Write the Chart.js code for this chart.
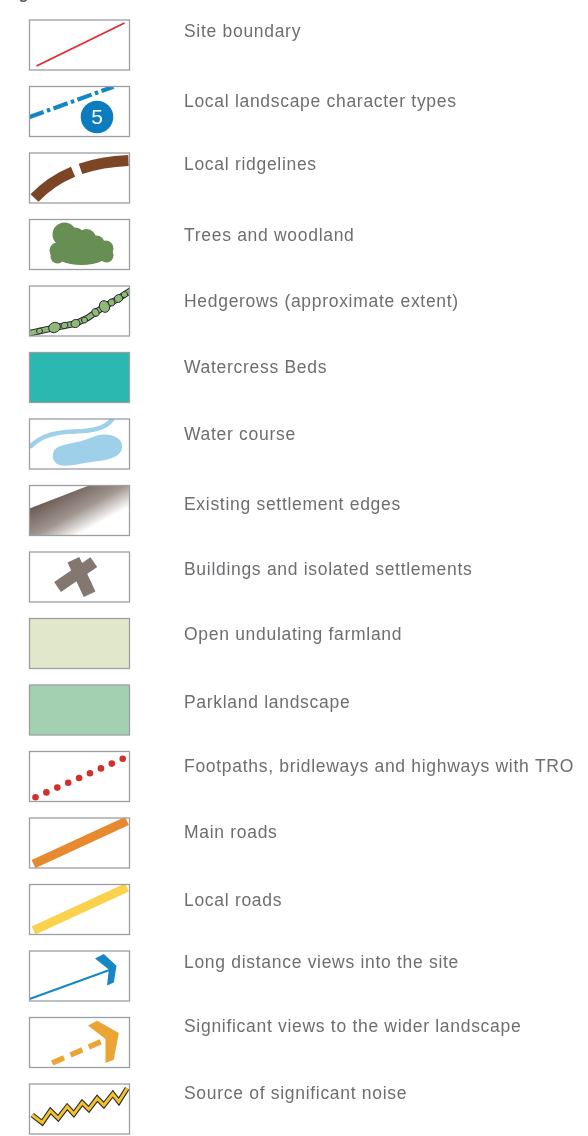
<!DOCTYPE html>
<html>
<head>
<meta charset="utf-8">
<title>Legend</title>
<script src="https://cdn.jsdelivr.net/npm/chart.js@4.4.1/dist/chart.umd.min.js"></script>
<style>
html, body { margin: 0; padding: 0; background: #ffffff; }
#wrap { position: relative; width: 588px; height: 1136px; }
</style>
</head>
<body>
<div id="wrap"><canvas id="legend-chart"></canvas></div>
<script>
// legend entries, top to bottom
var categories = [
	"Site boundary",
	"Local landscape character types",
	"Local ridgelines",
	"Trees and woodland",
	"Hedgerows (approximate extent)",
	"Watercress Beds",
	"Water course",
	"Existing settlement edges",
	"Buildings and isolated settlements",
	"Open undulating farmland",
	"Parkland landscape",
	"Footpaths, bridleways and highways with TRO",
	"Main roads",
	"Local roads",
	"Long distance views into the site",
	"Significant views to the wider landscape",
	"Source of significant noise"
];
var symbols = ["line", "dashDot", "ridge", "trees", "hedge", "fill", "water", "settlement",
	"building", "fill", "fill", "dots", "road", "road", "viewArrow", "viewChevron", "noise"];
var colours = ["#e5282c", "#1685c4", "#7b4526", "#678e53", "#8fb87b", "#2bb8b0", "#9ed0ea", "#6c5c55",
	"#847770", "#e1e8c9", "#a3d0b1", "#d3302b", "#e6892f", "#fcd24c", "#1687c6", "#eca535", "#f1c12e"];
var badgeText = "5";

// text nudges (how far the label baseline sits above the swatch centre)
var labelLift = [8, 5, 8, 4, 4, 5, 4, 1, 2, 4, 2, 5, 5, 4, 8, 11, 10];

var BOX_X = 29.5, BOX_W = 100, BOX_H = 50, TEXT_X = 184;

function poly(ctx, pts)
{
	ctx.beginPath();
	ctx.moveTo(pts[0][0], pts[0][1]);
	for (var k = 1; k < pts.length; k++) ctx.lineTo(pts[k][0], pts[k][1]);
}

var drawers =
{
	line: function(ctx, c)
	{
		ctx.strokeStyle = c; ctx.lineWidth = 1.8;
		poly(ctx, [[7, 46], [95, 3]]); ctx.stroke();
	},
	dashDot: function(ctx, c)
	{
		ctx.strokeStyle = c; ctx.lineWidth = 4.2;
		ctx.setLineDash([15, 3.5, 3.5, 3.5]);
		poly(ctx, [[0, 30.6], [84, 0.2]]); ctx.stroke();
		ctx.setLineDash([]);
		ctx.fillStyle = "#0b7dbf";
		ctx.beginPath(); ctx.arc(67.5, 30.5, 16.3, 0, Math.PI * 2); ctx.fill();
		ctx.fillStyle = "#ffffff";
		ctx.font = '21px "Liberation Sans", Arial, sans-serif';
		ctx.textAlign = "center"; ctx.textBaseline = "middle";
		ctx.fillText(badgeText, 67.5, 31.5);
	},
	ridge: function(ctx, c)
	{
		ctx.strokeStyle = c; ctx.lineWidth = 11; ctx.lineCap = "butt";
		ctx.setLineDash([47, 8, 300]);
		ctx.beginPath(); ctx.moveTo(5, 45); ctx.quadraticCurveTo(38, 10, 99, 7.5); ctx.stroke();
		ctx.setLineDash([]);
	},
	trees: function(ctx, c)
	{
		ctx.fillStyle = c;
		ctx.beginPath(); ctx.ellipse(52, 32, 29, 13.5, 0, 0, Math.PI * 2); ctx.fill();
		[[35, 15, 12], [46, 17, 9], [57, 19, 9.5], [67, 24, 8], [76, 29, 8], [77, 36, 7],
		 [28, 31, 8], [28, 37, 7], [40, 30, 12], [58, 31, 11]].forEach(function(b)
		{
			ctx.beginPath(); ctx.arc(b[0], b[1], b[2], 0, Math.PI * 2); ctx.fill();
		});
	},
	hedge: function(ctx, c)
	{
		var path = [[-1, 47.5], [26, 41.5], [46, 37.5], [58, 32], [74, 21], [89, 12.5], [102, 4]];
		ctx.lineJoin = "round";
		ctx.strokeStyle = "#2a2a2a"; ctx.lineWidth = 6.5; poly(ctx, path); ctx.stroke();
		ctx.strokeStyle = c; ctx.lineWidth = 4.5; poly(ctx, path); ctx.stroke();
		ctx.lineWidth = 1; ctx.strokeStyle = "#2a2a2a"; ctx.fillStyle = c;
		[[10, 45, 3, 2.8], [25, 41.5, 6, 5], [35, 39.5, 3.5, 3.2], [46, 37.5, 4.5, 4], [55, 34, 3, 3],
		 [66, 26.5, 3.4, 4], [75, 20.5, 5, 6], [82, 16.5, 3.4, 3.6], [89, 12.5, 4.2, 3.8], [95, 8.5, 3.2, 3]].forEach(function(e)
		{
			ctx.beginPath(); ctx.ellipse(e[0], e[1], e[2], e[3], -0.4, 0, Math.PI * 2);
			ctx.fill(); ctx.stroke();
		});
	},
	fill: function(ctx, c)
	{
		ctx.fillStyle = c; ctx.fillRect(0, 0, BOX_W, BOX_H);
	},
	water: function(ctx, c)
	{
		ctx.strokeStyle = c; ctx.lineWidth = 4.5; ctx.lineCap = "round";
		ctx.beginPath(); ctx.moveTo(1.5, 27);
		ctx.bezierCurveTo(12, 17, 25, 13, 45, 12.5);
		ctx.bezierCurveTo(65, 12, 76, 9, 83, 0);
		ctx.stroke();
		ctx.fillStyle = c;
		ctx.beginPath(); ctx.moveTo(24, 33);
		ctx.bezierCurveTo(26, 26, 40, 25, 52, 22);
		ctx.bezierCurveTo(62, 19, 68, 15, 76, 15.5);
		ctx.bezierCurveTo(88, 16, 95, 23, 92, 31);
		ctx.bezierCurveTo(89, 39, 78, 41, 62, 43);
		ctx.bezierCurveTo(48, 45, 38, 48, 30, 46);
		ctx.bezierCurveTo(24, 44.5, 22, 38, 24, 33);
		ctx.closePath(); ctx.fill();
	},
	settlement: function(ctx, c)
	{
		var g = ctx.createLinearGradient(0, 24, 22, 64);
		g.addColorStop(0, c);
		g.addColorStop(0.55, "#a0958f");
		g.addColorStop(1, "#ffffff");
		ctx.fillStyle = g;
		poly(ctx, [[0, 23], [62, -1], [101, -1], [101, 51], [0, 51]]);
		ctx.closePath(); ctx.fill();
	},
	building: function(ctx, c)
	{
		ctx.fillStyle = c;
		ctx.save(); ctx.translate(52, 25); ctx.rotate(1.13); ctx.fillRect(-19, -6.5, 38, 13); ctx.restore();
		ctx.save(); ctx.translate(47, 22); ctx.rotate(-0.6); ctx.fillRect(-23, -6, 44, 12); ctx.restore();
	},
	dots: function(ctx, c)
	{
		ctx.fillStyle = c;
		for (var k = 0; k < 9; k++)
		{
			ctx.beginPath();
			ctx.arc(6 + k * 10.9, 45.7 - k * 4.8, 3.3, 0, Math.PI * 2);
			ctx.fill();
		}
	},
	road: function(ctx, c)
	{
		ctx.strokeStyle = c; ctx.lineWidth = 9; ctx.lineCap = "butt";
		poly(ctx, [[4, 46], [97.5, 3]]); ctx.stroke();
	},
	viewArrow: function(ctx, c)
	{
		ctx.strokeStyle = c; ctx.lineWidth = 2;
		poly(ctx, [[0, 48], [80, 19]]); ctx.stroke();
		ctx.fillStyle = c;
		poly(ctx, [[65.5, 7.5], [74.3, 3], [87, 14.7], [84.3, 31.5], [77.5, 34.5], [79.3, 18.5]]);
		ctx.closePath(); ctx.fill();
	},
	viewChevron: function(ctx, c)
	{
		ctx.strokeStyle = c; ctx.lineWidth = 5.5; ctx.lineCap = "butt";
		ctx.setLineDash([13, 7]);
		poly(ctx, [[22.7, 45.6], [76, 22]]); ctx.stroke();
		ctx.setLineDash([]);
		ctx.fillStyle = c;
		poly(ctx, [[58.3, 8], [67.7, 3.3], [89.3, 15.6], [84.3, 42.3], [76, 45.6], [76, 21.6]]);
		ctx.closePath(); ctx.fill();
	},
	noise: function(ctx, c)
	{
		var zig = [[2.7, 31], [12.7, 38.7], [21, 26.7], [28.7, 34.3], [37.7, 22.7], [44.3, 30],
			[52.7, 18.7], [59.3, 25.3], [67.7, 14.3], [74.3, 21.3], [83.3, 10], [89.3, 17.7], [97.7, 4.3]];
		ctx.lineJoin = "miter";
		ctx.strokeStyle = "#2b2b2b"; ctx.lineWidth = 5.2; poly(ctx, zig); ctx.stroke();
		ctx.strokeStyle = c; ctx.lineWidth = 3; poly(ctx, zig); ctx.stroke();
	}
};

var swatchPlugin =
{
	id: "swatches",
	afterDraw: function(chart)
	{
		var ctx = chart.ctx;
		var yScale = chart.scales.y;

		ctx.save();
		ctx.fillStyle = "#58595b";
		ctx.font = 'bold 16px "Liberation Sans", Arial, sans-serif';
		ctx.fillText("Legend", 0, -1.5);
		ctx.restore();

		categories.forEach(function(label, i)
		{
			var yc = yScale.getPixelForValue(i);
			var top = yc - BOX_H / 2;

			ctx.save();
			ctx.translate(BOX_X, top);
			ctx.fillStyle = "#ffffff";
			ctx.fillRect(0, 0, BOX_W, BOX_H);
			ctx.save();
			ctx.beginPath(); ctx.rect(0, 0, BOX_W, BOX_H); ctx.clip();
			drawers[symbols[i]](ctx, colours[i]);
			ctx.restore();
			ctx.strokeStyle = "#9b9fa4";
			ctx.lineWidth = 1.3;
			ctx.strokeRect(0, 0, BOX_W, BOX_H);
			ctx.restore();

			ctx.save();
			ctx.fillStyle = "#6d6e71";
			ctx.font = '17.5px "Liberation Sans", Arial, sans-serif';
			ctx.letterSpacing = "0.7px";
			ctx.textBaseline = "alphabetic";
			ctx.fillText(label, TEXT_X, yc - labelLift[i]);
			ctx.restore();
		});
	}
};

new Chart(document.getElementById("legend-chart"),
{
	type: "bar",
	data:
	{
		labels: categories,
		datasets: [{ data: categories.map(function() { return null; }) }]
	},
	options:
	{
		indexAxis: "y",
		responsive: true,
		maintainAspectRatio: false,
		animation: false,
		layout: { padding: { top: 45, bottom: 27, left: 0, right: 0 } },
		scales:
		{
			x: { display: false },
			y: { display: false, offset: false }
		},
		plugins:
		{
			legend: { display: false },
			tooltip: { enabled: false }
		}
	},
	plugins: [swatchPlugin]
});
</script>
</body>
</html>
